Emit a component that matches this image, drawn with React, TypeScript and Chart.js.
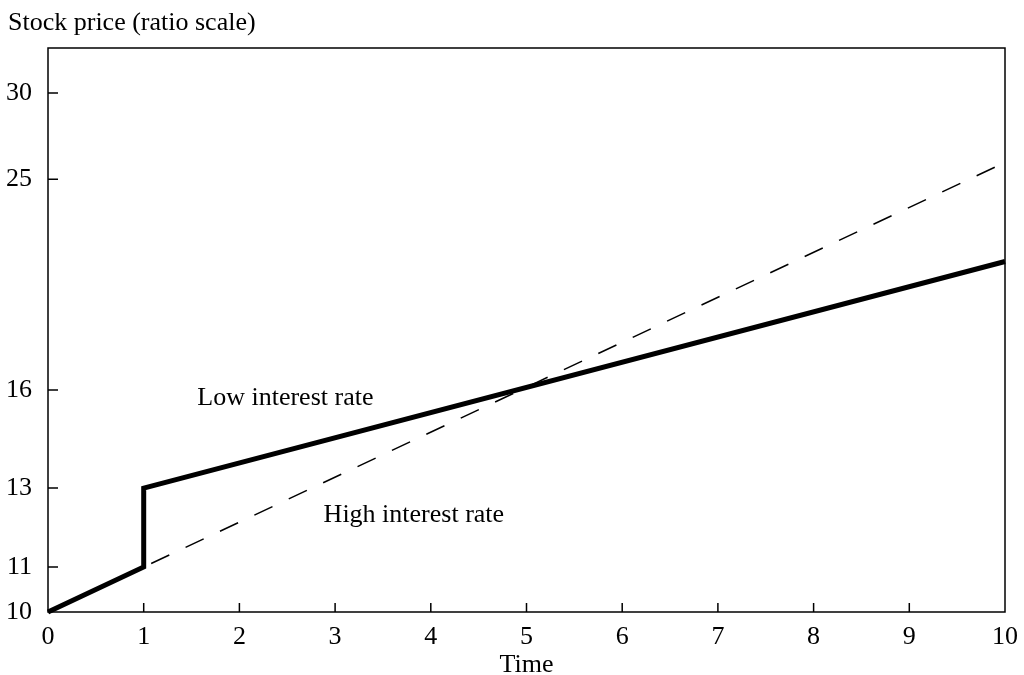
import React, { useEffect, useRef } from "react";
import { Chart, registerables } from "chart.js";

Chart.register(...registerables);

// ---- data ----
const lowTimes = [0, 1, 1, 10];
const lowPrices = [10, 11, 13, 21];
const highTimes = [0, 10];
const highPrices = [10, 25.9];
const yTickValues = [10, 11, 13, 16, 25, 30];
const xTickValues = [0, 1, 2, 3, 4, 5, 6, 7, 8, 9, 10];
const yTitle = "Stock price (ratio scale)";
const xTitle = "Time";
const lowLabel = "Low interest rate";
const highLabel = "High interest rate";
const lowLabelAt = { x: 1.56, y: 15.5 };
const highLabelAt = { x: 2.88, y: 12.1 };

const FONT = "'Liberation Serif', 'Times New Roman', serif";

export default function App() {
  const ref = useRef<HTMLCanvasElement | null>(null);

  useEffect(() => {
    const canvas = ref.current;
    if (!canvas) return;

    const decor = {
      id: "decor",
      afterDraw(chart: any) {
        const { ctx, chartArea } = chart;
        const xs = chart.scales.x;
        const ys = chart.scales.y;
        ctx.save();
        ctx.strokeStyle = "#000";
        ctx.lineWidth = 1.5;
        ctx.strokeRect(
          chartArea.left,
          chartArea.top,
          chartArea.right - chartArea.left,
          chartArea.bottom - chartArea.top
        );
        // inward tick marks
        ctx.beginPath();
        xTickValues.forEach((v) => {
          if (v === xs.min || v === xs.max) return;
          const px = xs.getPixelForValue(v);
          ctx.moveTo(px, chartArea.bottom);
          ctx.lineTo(px, chartArea.bottom - 9);
        });
        yTickValues.forEach((v) => {
          if (v === ys.min) return;
          const py = ys.getPixelForValue(v);
          ctx.moveTo(chartArea.left, py);
          ctx.lineTo(chartArea.left + 10, py);
        });
        ctx.stroke();

        ctx.fillStyle = "#000";
        ctx.font = `26px ${FONT}`;
        ctx.textBaseline = "alphabetic";
        ctx.textAlign = "left";
        ctx.fillText(yTitle, 8, 30);
        ctx.fillText(
          lowLabel,
          xs.getPixelForValue(lowLabelAt.x),
          ys.getPixelForValue(lowLabelAt.y)
        );
        ctx.fillText(
          highLabel,
          xs.getPixelForValue(highLabelAt.x),
          ys.getPixelForValue(highLabelAt.y)
        );
        ctx.textAlign = "center";
        ctx.fillText(xTitle, (chartArea.left + chartArea.right) / 2, 672);
        ctx.restore();
      },
    };

    const chart = new Chart(canvas, {
      type: "line",
      data: {
        datasets: [
          {
            label: highLabel,
            data: highTimes.map((t, i) => ({ x: t, y: highPrices[i] })),
            borderColor: "#000",
            borderWidth: 1.5,
            borderDash: [20, 18],
            pointRadius: 0,
            fill: false,
            tension: 0,
          },
          {
            label: lowLabel,
            data: lowTimes.map((t, i) => ({ x: t, y: lowPrices[i] })),
            borderColor: "#000",
            borderWidth: 5,
            borderJoinStyle: "miter",
            pointRadius: 0,
            fill: false,
            tension: 0,
            clip: false as any,
          },
        ],
      },
      options: {
        animation: false,
        responsive: false,
        maintainAspectRatio: false,
        layout: { padding: { top: 48, right: 19, left: 0, bottom: 0 } },
        plugins: {
          legend: { display: false },
          tooltip: { enabled: false },
          title: { display: false },
        },
        scales: {
          x: {
            type: "linear",
            min: 0,
            max: 10,
            grid: { display: false },
            border: { display: false },
            afterBuildTicks: (scale: any) => {
              scale.ticks = xTickValues.map((v) => ({ value: v }));
            },
            afterFit: (scale: any) => {
              scale.height = 63;
            },
            ticks: {
              autoSkip: false,
              maxRotation: 0,
              padding: 2,
              color: "#000",
              font: { family: FONT, size: 26 },
              callback: (v: any) => String(v),
            },
          },
          y: {
            type: "logarithmic",
            min: 10,
            max: 33,
            grid: { display: false },
            border: { display: false },
            afterBuildTicks: (scale: any) => {
              scale.ticks = yTickValues.map((v) => ({ value: v }));
            },
            afterFit: (scale: any) => {
              scale.width = 48;
            },
            ticks: {
              autoSkip: false,
              padding: 8,
              color: "#000",
              font: { family: FONT, size: 26 },
              callback: (v: any) => String(v),
            },
          },
        },
      },
      plugins: [decor],
    });

    return () => chart.destroy();
  }, []);

  return (
    <div style={{ position: "fixed", left: 0, top: 0, width: 1024, height: 675, background: "#fff" }}>
      <canvas ref={ref} width={1024} height={675} style={{ width: 1024, height: 675 }} />
    </div>
  );
}
